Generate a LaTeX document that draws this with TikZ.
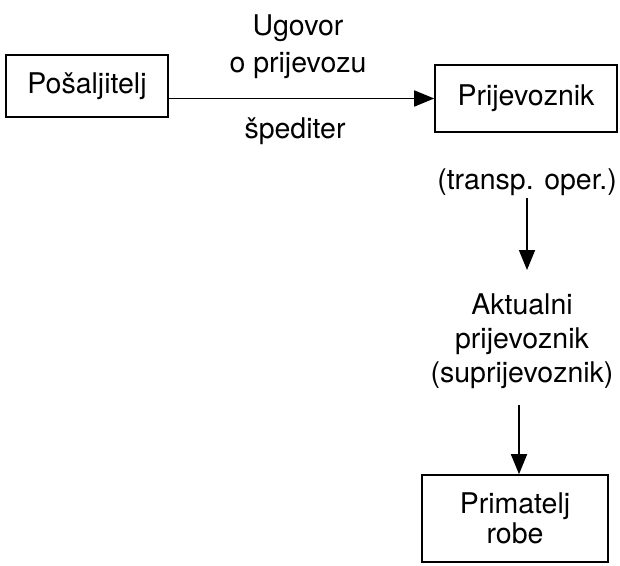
\documentclass[tikz,border=0pt]{standalone}
\usepackage{fontspec}
\setmainfont{TeX Gyre Heros}
\usetikzlibrary{arrows.meta}
\begin{document}
\begin{tikzpicture}[x=1pt,y=-1pt,
  every node/.style={font=\fontsize{28.5}{35}\selectfont, inner sep=0pt},
  box/.style={draw, line width=1.6pt, align=center},
  lbl/.style={align=center, anchor=base},
  arr/.style={line width=1.6pt, -{Triangle[length=20pt,width=16pt]}}]
\useasboundingbox (0,0) rectangle (620,565);

% boxes
\node[box, minimum width=162pt, minimum height=62pt] (pos) at (87,86) {Pošaljitelj};
\node[box, minimum width=182pt, minimum height=67pt] (prij) at (526,98.5) {Prijevoznik};
\node[box, minimum width=186pt, minimum height=87pt,
      font=\fontsize{28.5}{30}\selectfont] (prim) at (515,518.5) {Primatelj\\robe};

% labels (anchored at the baseline of the last line)
\node[lbl, font=\fontsize{28.5}{37}\selectfont] (ug) at (298,72) {Ugovor\\o prijevozu};
\node[lbl] (sped) at (295,138) {špediter};
\node[lbl] (oper) at (527,189) {(transp. oper.)};
\node[lbl, font=\fontsize{28.5}{34}\selectfont] (akt) at (522,382) {Aktualni\\prijevoznik\\(suprijevoznik)};

% connectors
\draw[arr] (pos.east |- prij.west) -- (prij.west);
\draw[arr, shorten <=3pt, shorten >=23pt] (oper.south) -- (oper.south |- akt.north);
\draw[arr, shorten <=17pt] (akt.south -| prim.north) ++(4,0) -- ([xshift=4pt]prim.north);
\end{tikzpicture}
\end{document}
